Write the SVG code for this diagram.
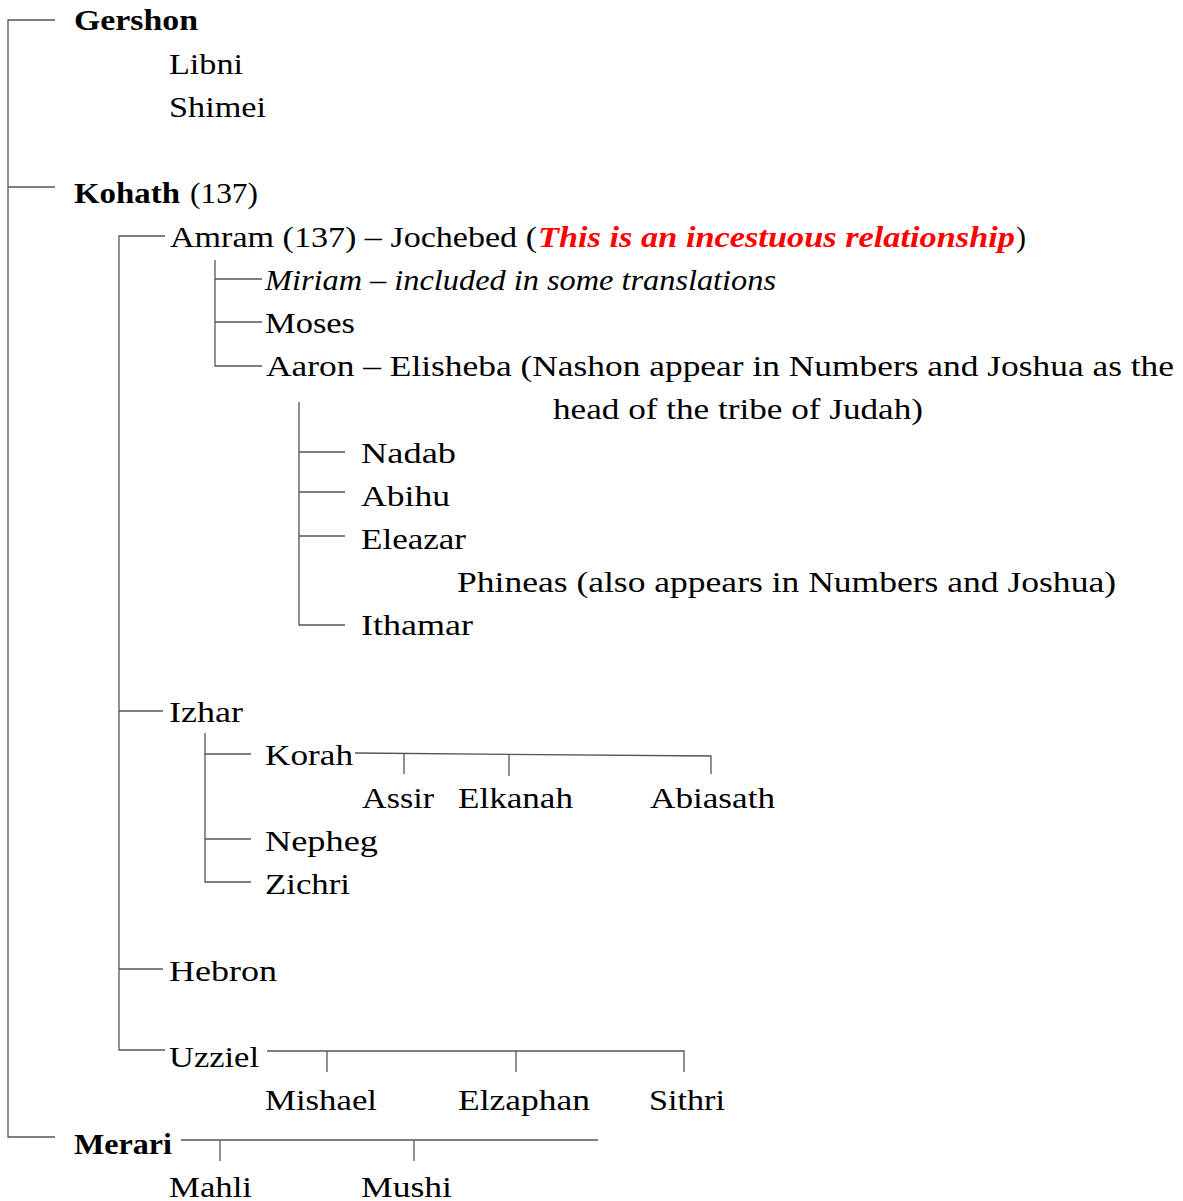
<svg xmlns="http://www.w3.org/2000/svg" width="1183" height="1201" viewBox="0 0 1183 1201">
<style>
text{font-family:"Liberation Serif","DejaVu Serif",serif;font-size:30px;fill:#000}
.b{font-weight:bold}
.i{font-style:italic}
.r{fill:#f00;font-weight:bold;font-style:italic}
.c line,.c path{stroke:#555;stroke-width:1.3;fill:none}
</style>
<rect width="1183" height="1201" fill="#fff"/>
<g class="c" id="connectors">
<path d="M55,20 H8 V1137 H55"/>
<line x1="8" y1="187" x2="55" y2="187"/>
<path d="M165,236 H119 V1050 H165"/>
<line x1="119" y1="711" x2="163" y2="711"/>
<line x1="119" y1="969" x2="163" y2="969"/>
<path d="M215,260 V366 H262"/>
<line x1="215" y1="279" x2="262" y2="279"/>
<line x1="215" y1="322" x2="262" y2="322"/>
<path d="M299,402 V625 H345"/>
<line x1="299" y1="452" x2="345" y2="452"/>
<line x1="299" y1="492" x2="345" y2="492"/>
<line x1="299" y1="536" x2="345" y2="536"/>
<path d="M205,733 V882 H251"/>
<line x1="205" y1="754" x2="251" y2="754"/>
<line x1="205" y1="839" x2="251" y2="839"/>
<path d="M355,753 L711,756 V774"/>
<line x1="404" y1="753.4" x2="404" y2="774"/>
<line x1="509" y1="754.3" x2="509" y2="776"/>
<path d="M267,1051 H684 V1072"/>
<line x1="327" y1="1051" x2="327" y2="1072"/>
<line x1="516" y1="1051" x2="516" y2="1072"/>
<line x1="181" y1="1140" x2="598" y2="1140"/>
<line x1="220" y1="1140" x2="220" y2="1161"/>
<line x1="414" y1="1140" x2="414" y2="1161"/>
</g>
<g id="gershon"><text class="b" x="74" y="30" textLength="124" lengthAdjust="spacingAndGlyphs">Gershon</text></g>
<g id="libni"><text x="169" y="74" textLength="74" lengthAdjust="spacingAndGlyphs">Libni</text></g>
<g id="shimei"><text x="169" y="117" textLength="97" lengthAdjust="spacingAndGlyphs">Shimei</text></g>
<g id="kohath"><text class="b" x="74" y="203" textLength="106" lengthAdjust="spacingAndGlyphs">Kohath</text><text x="190" y="203" textLength="68" lengthAdjust="spacingAndGlyphs">(137)</text></g>
<g id="amram"><text x="170" y="247" textLength="367" lengthAdjust="spacingAndGlyphs">Amram (137) – Jochebed (</text><text class="r" x="538" y="247" textLength="477" lengthAdjust="spacingAndGlyphs">This is an incestuous relationship</text><text x="1016" y="247" textLength="10" lengthAdjust="spacingAndGlyphs">)</text></g>
<g id="miriam"><text class="i" x="265" y="290" textLength="511" lengthAdjust="spacingAndGlyphs">Miriam – included in some translations</text></g>
<g id="moses"><text x="265" y="333" textLength="90" lengthAdjust="spacingAndGlyphs">Moses</text></g>
<g id="aaron"><text x="266" y="376" textLength="908" lengthAdjust="spacingAndGlyphs">Aaron – Elisheba (Nashon appear in Numbers and Joshua as the</text><text x="553" y="419" textLength="370" lengthAdjust="spacingAndGlyphs">head of the tribe of Judah)</text></g>
<g id="nadab"><text x="361" y="463" textLength="95" lengthAdjust="spacingAndGlyphs">Nadab</text></g>
<g id="abihu"><text x="361" y="506" textLength="89" lengthAdjust="spacingAndGlyphs">Abihu</text></g>
<g id="eleazar"><text x="361" y="549" textLength="105" lengthAdjust="spacingAndGlyphs">Eleazar</text></g>
<g id="phineas"><text x="457" y="592" textLength="659" lengthAdjust="spacingAndGlyphs">Phineas (also appears in Numbers and Joshua)</text></g>
<g id="ithamar"><text x="361" y="635" textLength="112" lengthAdjust="spacingAndGlyphs">Ithamar</text></g>
<g id="izhar"><text x="169" y="722" textLength="74" lengthAdjust="spacingAndGlyphs">Izhar</text></g>
<g id="korah"><text x="265" y="765" textLength="88" lengthAdjust="spacingAndGlyphs">Korah</text></g>
<g id="assir"><text x="362" y="808" textLength="72" lengthAdjust="spacingAndGlyphs">Assir</text></g>
<g id="elkanah"><text x="458" y="808" textLength="115" lengthAdjust="spacingAndGlyphs">Elkanah</text></g>
<g id="abiasath"><text x="650" y="808" textLength="125" lengthAdjust="spacingAndGlyphs">Abiasath</text></g>
<g id="nepheg"><text x="265" y="851" textLength="113" lengthAdjust="spacingAndGlyphs">Nepheg</text></g>
<g id="zichri"><text x="265" y="894" textLength="85" lengthAdjust="spacingAndGlyphs">Zichri</text></g>
<g id="hebron"><text x="169" y="981" textLength="108" lengthAdjust="spacingAndGlyphs">Hebron</text></g>
<g id="uzziel"><text x="169" y="1067" textLength="90" lengthAdjust="spacingAndGlyphs">Uzziel</text></g>
<g id="mishael"><text x="265" y="1110" textLength="112" lengthAdjust="spacingAndGlyphs">Mishael</text></g>
<g id="elzaphan"><text x="458" y="1110" textLength="132" lengthAdjust="spacingAndGlyphs">Elzaphan</text></g>
<g id="sithri"><text x="649" y="1110" textLength="76" lengthAdjust="spacingAndGlyphs">Sithri</text></g>
<g id="merari"><text class="b" x="74" y="1154" textLength="98" lengthAdjust="spacingAndGlyphs">Merari</text></g>
<g id="mahli"><text x="169" y="1197" textLength="83" lengthAdjust="spacingAndGlyphs">Mahli</text></g>
<g id="mushi"><text x="361" y="1197" textLength="91" lengthAdjust="spacingAndGlyphs">Mushi</text></g>
</svg>
